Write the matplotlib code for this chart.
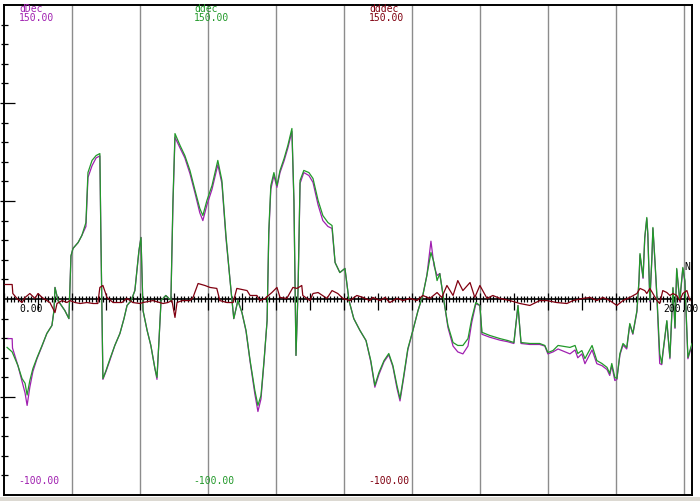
import matplotlib
matplotlib.use("Agg")
import matplotlib.pyplot as plt
import numpy as np

# ---- data (x in samples, values in series units) ----
green_x = [0.9,2.4,4.1,5.3,6.2,6.8,7.6,8.5,9.7,11.2,
           12.6,14.1,14.7,15.0,15.9,17.9,19.1,19.7,20.3,21.8,
           22.9,24.1,24.7,25.9,27.1,28.2,28.5,29.1,30.0,31.2,
           32.6,34.1,35.3,36.2,37.4,38.5,39.7,40.3,40.9,42.1,
           43.2,44.4,45.0,45.6,46.2,47.6,49.1,49.7,50.3,51.8,
           53.2,54.7,56.2,57.6,58.5,59.7,61.2,62.9,64.1,65.3,
           66.5,67.6,68.8,70.0,71.2,72.4,73.8,74.7,75.6,76.5,
           77.4,77.9,78.5,79.4,80.3,81.2,82.4,83.5,84.7,85.3,
           85.9,86.5,87.1,88.2,89.7,90.9,92.4,93.8,95.3,96.5,
           97.4,98.8,100.3,101.5,102.9,104.7,106.5,107.9,109.1,110.3,
           111.8,113.2,114.4,115.6,116.5,117.6,118.8,120.3,121.8,123.2,
           124.4,125.6,126.5,127.4,128.2,129.4,130.6,132.1,133.5,135.0,
           136.5,137.6,138.8,140.0,140.6,142.9,145.9,148.2,150.0,151.2,
           152.1,154.7,157.6,159.1,160.0,161.5,163.0,166.5,168.0,168.8,
           170.0,170.9,173.0,174.4,175.9,177.4,178.2,178.8,179.7,180.3,
           181.2,182.1,183.2,184.1,185.0,186.2,186.8,187.1,188.0,188.5,
           189.1,189.4,190.0,190.6,190.9,191.5,192.1,192.9,193.5,193.8,
           195.0,195.3,195.9,196.8,197.4,197.9,198.8,199.7,200.3,200.9,
           201.2,202.4]
ddec = [-24.7,-27,-34,-40.6,-43,-49,-41.6,-35.5,-30,-23.7,
        -17.6,-13.5,-5.9,5.9,-0.8,-5.9,-10,22,25.8,28.8,
        32.4,39,64.5,70.7,73.2,74.2,32.4,-40.6,-36.5,-30.4,
        -23.7,-17.6,-10,-3.3,-0.8,4.3,24.7,31.4,-5.9,-16,
        -23.7,-35.5,-40,-21,-0.8,1.8,-0.8,50,84.4,78.3,
        73.2,65.6,55.4,46.2,42.6,50.3,57.9,70.7,60.5,32.4,
        9.4,-10,-0.8,-6.9,-16,-31.4,-46.7,-54.3,-49.2,-31.4,
        -11,34.9,57.9,64.5,57.9,65.6,71.7,78.3,87,50.3,
        -28.8,4.3,60.5,65.6,64.5,61.5,50.3,42.6,39,37.5,
        18.6,13.5,15.6,-0.8,-10,-16,-21.2,-31.4,-44.1,-37.5,
        -31.4,-27.8,-33.9,-44.1,-50.8,-39,-25.3,-16,-5.9,1.8,
        12,23.7,18.6,9.4,13,-0.8,-13.5,-22.2,-23.7,-23.7,
        -20.2,-10,-1.8,-3.3,-17,-18.6,-20.2,-21.2,-22.2,-3.3,
        -22.2,-22.7,-22.7,-23.7,-27.3,-26.3,-23.7,-24.7,-23.7,-27.8,
        -26.3,-30.4,-23.7,-31.4,-32.9,-34.9,-38,-32.9,-40,-40.6,
        -27.8,-22.7,-24.7,-12.5,-17.6,-5.9,9.4,23.2,11,31.4,
        41.6,33.4,-0.8,21.2,36.5,19.6,0.8,-27.8,-32.9,-27.8,
        -11,-17.6,-29.8,5.9,-14.5,15.6,-0.8,16.1,9.4,-16,
        -29.8,-22.7]

purple_x = [1.2,2.4,2.5,4.1,5.3,6.2,6.8,7.6,8.5,9.7,11.2,
            12.6,14.1,14.7,15.0,15.9,17.9,19.1,19.7,20.3,21.8,
            22.9,24.1,24.7,25.9,27.1,28.2,28.5,29.1,30.0,31.2,
            32.6,34.1,35.3,36.2,37.4,38.5,39.7,40.3,40.9,42.1,
            43.2,44.4,45.0,45.6,46.2,47.6,49.1,49.7,50.3,51.8,
            53.2,54.7,56.2,57.6,58.5,59.7,61.2,62.9,64.1,65.3,
            66.5,67.6,68.8,70.0,71.2,72.4,73.8,74.7,75.6,76.5,
            77.4,77.9,78.5,79.4,80.3,81.2,82.4,83.5,84.7,85.3,
            85.9,86.5,87.1,88.2,89.7,90.9,92.4,93.8,95.3,96.5,
            97.4,98.8,100.3,101.5,102.9,104.7,106.5,107.9,109.1,110.3,
            111.8,113.2,114.4,115.6,116.5,117.6,118.8,120.3,121.8,123.2,
            124.4,125.6,126.5,127.4,128.2,129.4,130.6,132.1,133.5,135.0,
            136.5,137.6,138.8,140.0,140.6,142.9,145.9,148.2,150.0,151.2,
            152.1,154.7,157.6,159.1,160.0,161.5,163.0,166.5,168.0,168.8,
            170.0,170.9,173.0,174.4,175.9,177.4,178.2,178.8,179.7,180.3,
            181.2,182.1,183.2,184.1,185.0,186.2,186.8,187.1,188.0,188.5,
            189.1,189.4,190.0,190.6,190.9,191.5,192.1,192.9,193.5,193.8,
            195.0,195.3,195.9,196.8,197.4,197.9,198.8,199.7,200.3,200.9,
            201.2,202.4]
dDec = [-20.2,-20.2,-25,-34,-42,-48,-54.3,-45,-37,-30.5,-24,
        -17.6,-13.5,-5.9,5.9,-0.8,-5.9,-10,22,25.8,28.8,
        32.4,37,62,68,72,73,32.4,-41,-37,-31,
        -23.7,-17.6,-10,-3.3,-0.8,4.3,24.7,31.4,-5.9,-16,
        -23.7,-35.5,-41,-21,-0.8,1.8,-0.8,48,82.5,77,
        72,64,54,44,40,48,56,68.5,59,31,
        9.4,-10,-0.8,-6.9,-16.5,-32,-48.5,-57.4,-51,-32,
        -11,33,56,63,57,64.5,70.5,77,85.5,49,
        -28.8,4.3,59,64.5,63,59.5,48,40,37,36,
        18.6,13.5,15.6,-0.8,-10,-16,-21.2,-32,-45,-38.5,
        -32,-28.5,-34.5,-45.5,-52,-40,-26,-16,-5.9,1.8,
        12,29.5,17,12,13,-0.8,-14.5,-24,-27,-28,
        -24,-12,-2.5,-3.3,-18,-19.5,-21,-21.8,-22.7,-3.3,
        -22.7,-23.2,-23.2,-24,-28,-27,-25.5,-28,-26,-30,
        -28,-33,-26,-33,-34,-36,-39,-34,-41.6,-41,
        -28.5,-23.5,-25.5,-13,-18,-6.5,9,22.5,10.5,31,
        41,33,-1.5,20.5,36,19,0,-32.9,-33.5,-28.5,
        -11.5,-18,-30.5,5.5,-15,15,-1.5,15.5,9,-16.5,
        -30.5,-23.5]

red_x = [0.3,2.4,2.6,3.8,5.3,6.2,7.6,9.1,10.0,11.2,
         12.6,13.5,15.0,15.6,17.1,18.5,19.4,20.9,22.4,24.4,
         26.2,27.6,28.2,29.1,30.3,32.1,34.7,36.2,37.9,40.0,
         40.9,43.8,46.8,48.2,49.4,50.3,50.9,52.4,54.7,55.6,
         57.1,59.1,60.6,62.6,63.5,65.6,67.4,68.5,71.5,72.4,
         74.4,75.3,76.8,78.8,80.3,81.2,83.2,85.0,86.2,87.6,
         87.9,90.0,90.9,92.4,95.0,96.5,98.2,99.7,101.8,103.8,
         105.6,107.6,108.5,110.6,112.1,113.5,115.6,117.4,119.4,121.5,
         123.2,125.3,127.4,128.8,130.3,132.1,133.5,135.0,137.1,138.5,
         140.0,142.1,143.8,145.9,148.8,151.8,154.7,157.6,159.7,162.6,
         165.6,167.4,170.3,172.4,174.4,176.2,178.2,180.3,182.1,184.1,
         186.2,187.1,188.5,189.1,190.0,190.9,192.1,192.9,193.8,195.0,
         195.9,196.8,197.9,198.8,199.7,200.9,201.8]
dddec = [7.4,7.4,2.8,0.3,-1.8,0.8,2.8,0.3,2.8,0.8,
         -0.8,-1.8,-6.9,-2.3,-0.8,-1.8,-0.8,-1.8,-2.3,-1.8,
         -2.3,-2.3,5.9,6.9,0.8,-1.8,-1.8,0.3,-1.8,-2.3,
         -1.8,-0.8,-2.3,-1.8,-0.8,-9.4,-1.8,-0.8,-0.8,0.8,
         7.9,6.9,5.9,5.4,-0.8,-1.8,-1.8,5.4,4.3,1.8,
         1.8,-0.8,0.3,3.3,5.9,0.8,0.3,5.9,5.4,6.9,
         1.8,-0.8,2.8,3.3,0.3,4.3,2.8,0.3,-0.8,1.8,
         0.8,-0.8,0.8,-0.8,0.8,-1.8,0.3,-0.8,0.3,-0.8,
         1.8,0.3,3.3,0.8,6.9,1.8,9.4,4.3,8.4,0.8,
         6.9,0.3,1.8,0.3,-0.8,-2.3,-3.3,-0.8,-0.8,-1.8,
         -2.3,-0.8,0.3,0.8,-0.8,0.8,-0.8,-3.3,-0.8,0.8,
         2.8,5.4,4.3,2.8,5.4,2.8,-0.8,-2.3,4.3,3.3,
         1.8,2.8,1.8,-0.8,2.8,4.3,-0.8]

series_names = ["dDec", "ddec", "dddec"]
top_labels = ["150.00", "150.00", "150.00"]
bottom_labels = ["-100.00", "-100.00", "-100.00"]
x_labels = ["0.00", "200.00"]

PURPLE = "#a020b0"
GREEN = "#22992a"
RED = "#800010"

W, H = 700, 501
fig = plt.figure(figsize=(W / 100, H / 100), dpi=100)
fig.patch.set_facecolor("white")

L, R, T, B = 4, 692, 5, 495
ax = fig.add_axes([L / W, 1 - B / H, (R - L) / W, (B - T) / H])
ax.set_xlim(0, 202.4)
ax.set_ylim(-100, 150)
ax.set_xticks([])
ax.set_yticks([])
for s in ax.spines.values():
    s.set_color("black")
    s.set_linewidth(1.4)

# gray vertical grid lines every 20 samples
for gx in range(20, 201, 20):
    ax.axvline(gx, color="#8c8c8c", lw=1.0, zorder=1)

# horizontal zero axis with ticks
ax.axhline(0, color="black", lw=1.2, zorder=2)
minor_x = [v for v in range(0, 203) if v % 10 != 0]
major_x = list(range(0, 203, 10))
ax.vlines(minor_x, -1.6, 1.6, color="black", lw=0.9, zorder=2)
ax.vlines(major_x, -5.5, 3.0, color="black", lw=0.9, zorder=2)

# left axis ticks
ytr = ax.get_yaxis_transform()
px = 1.0 / (R - L)
minor_y = [v for v in range(-90, 150, 10) if v % 50 != 0]
major_y = [-50, 50, 100]
ax.hlines(minor_y, -3 * px, 4 * px, color="black", lw=0.9, transform=ytr, clip_on=False, zorder=3)
ax.hlines(major_y, -4 * px, 11 * px, color="black", lw=0.9, transform=ytr, clip_on=False, zorder=3)

# series
ax.plot(purple_x, dDec, color=PURPLE, lw=0.9, zorder=4)
ax.plot(green_x, ddec, color=GREEN, lw=0.9, zorder=5)
ax.plot(red_x, dddec, color=RED, lw=0.9, zorder=6)

# texts
fp = dict(family="DejaVu Sans Mono", fontsize=7)
def ptext(x, y, s, c):
    fig.text(x / W, 1 - y / H, s, color=c, va="top", ha="left", **fp)

cols = [PURPLE, GREEN, RED]
xs_top = [19, 194, 369]
for name, tl, bl, c, x0 in zip(series_names, top_labels, bottom_labels, cols, xs_top):
    ptext(x0, 4, name, c)
    ptext(x0, 13, tl, c)
    ptext(x0 - 1, 476, bl, c)

ptext(19, 304, x_labels[0], "black")
ptext(663, 304, x_labels[1], "black")
ptext(684, 262, "N", "black")

# bottom gray strip
fig.patches.append(plt.Rectangle((0, 0), 1, 4 / H, transform=fig.transFigure,
                                 facecolor="#dcd9d2", edgecolor="none"))

fig.savefig("out.png", dpi=100, facecolor="white")
